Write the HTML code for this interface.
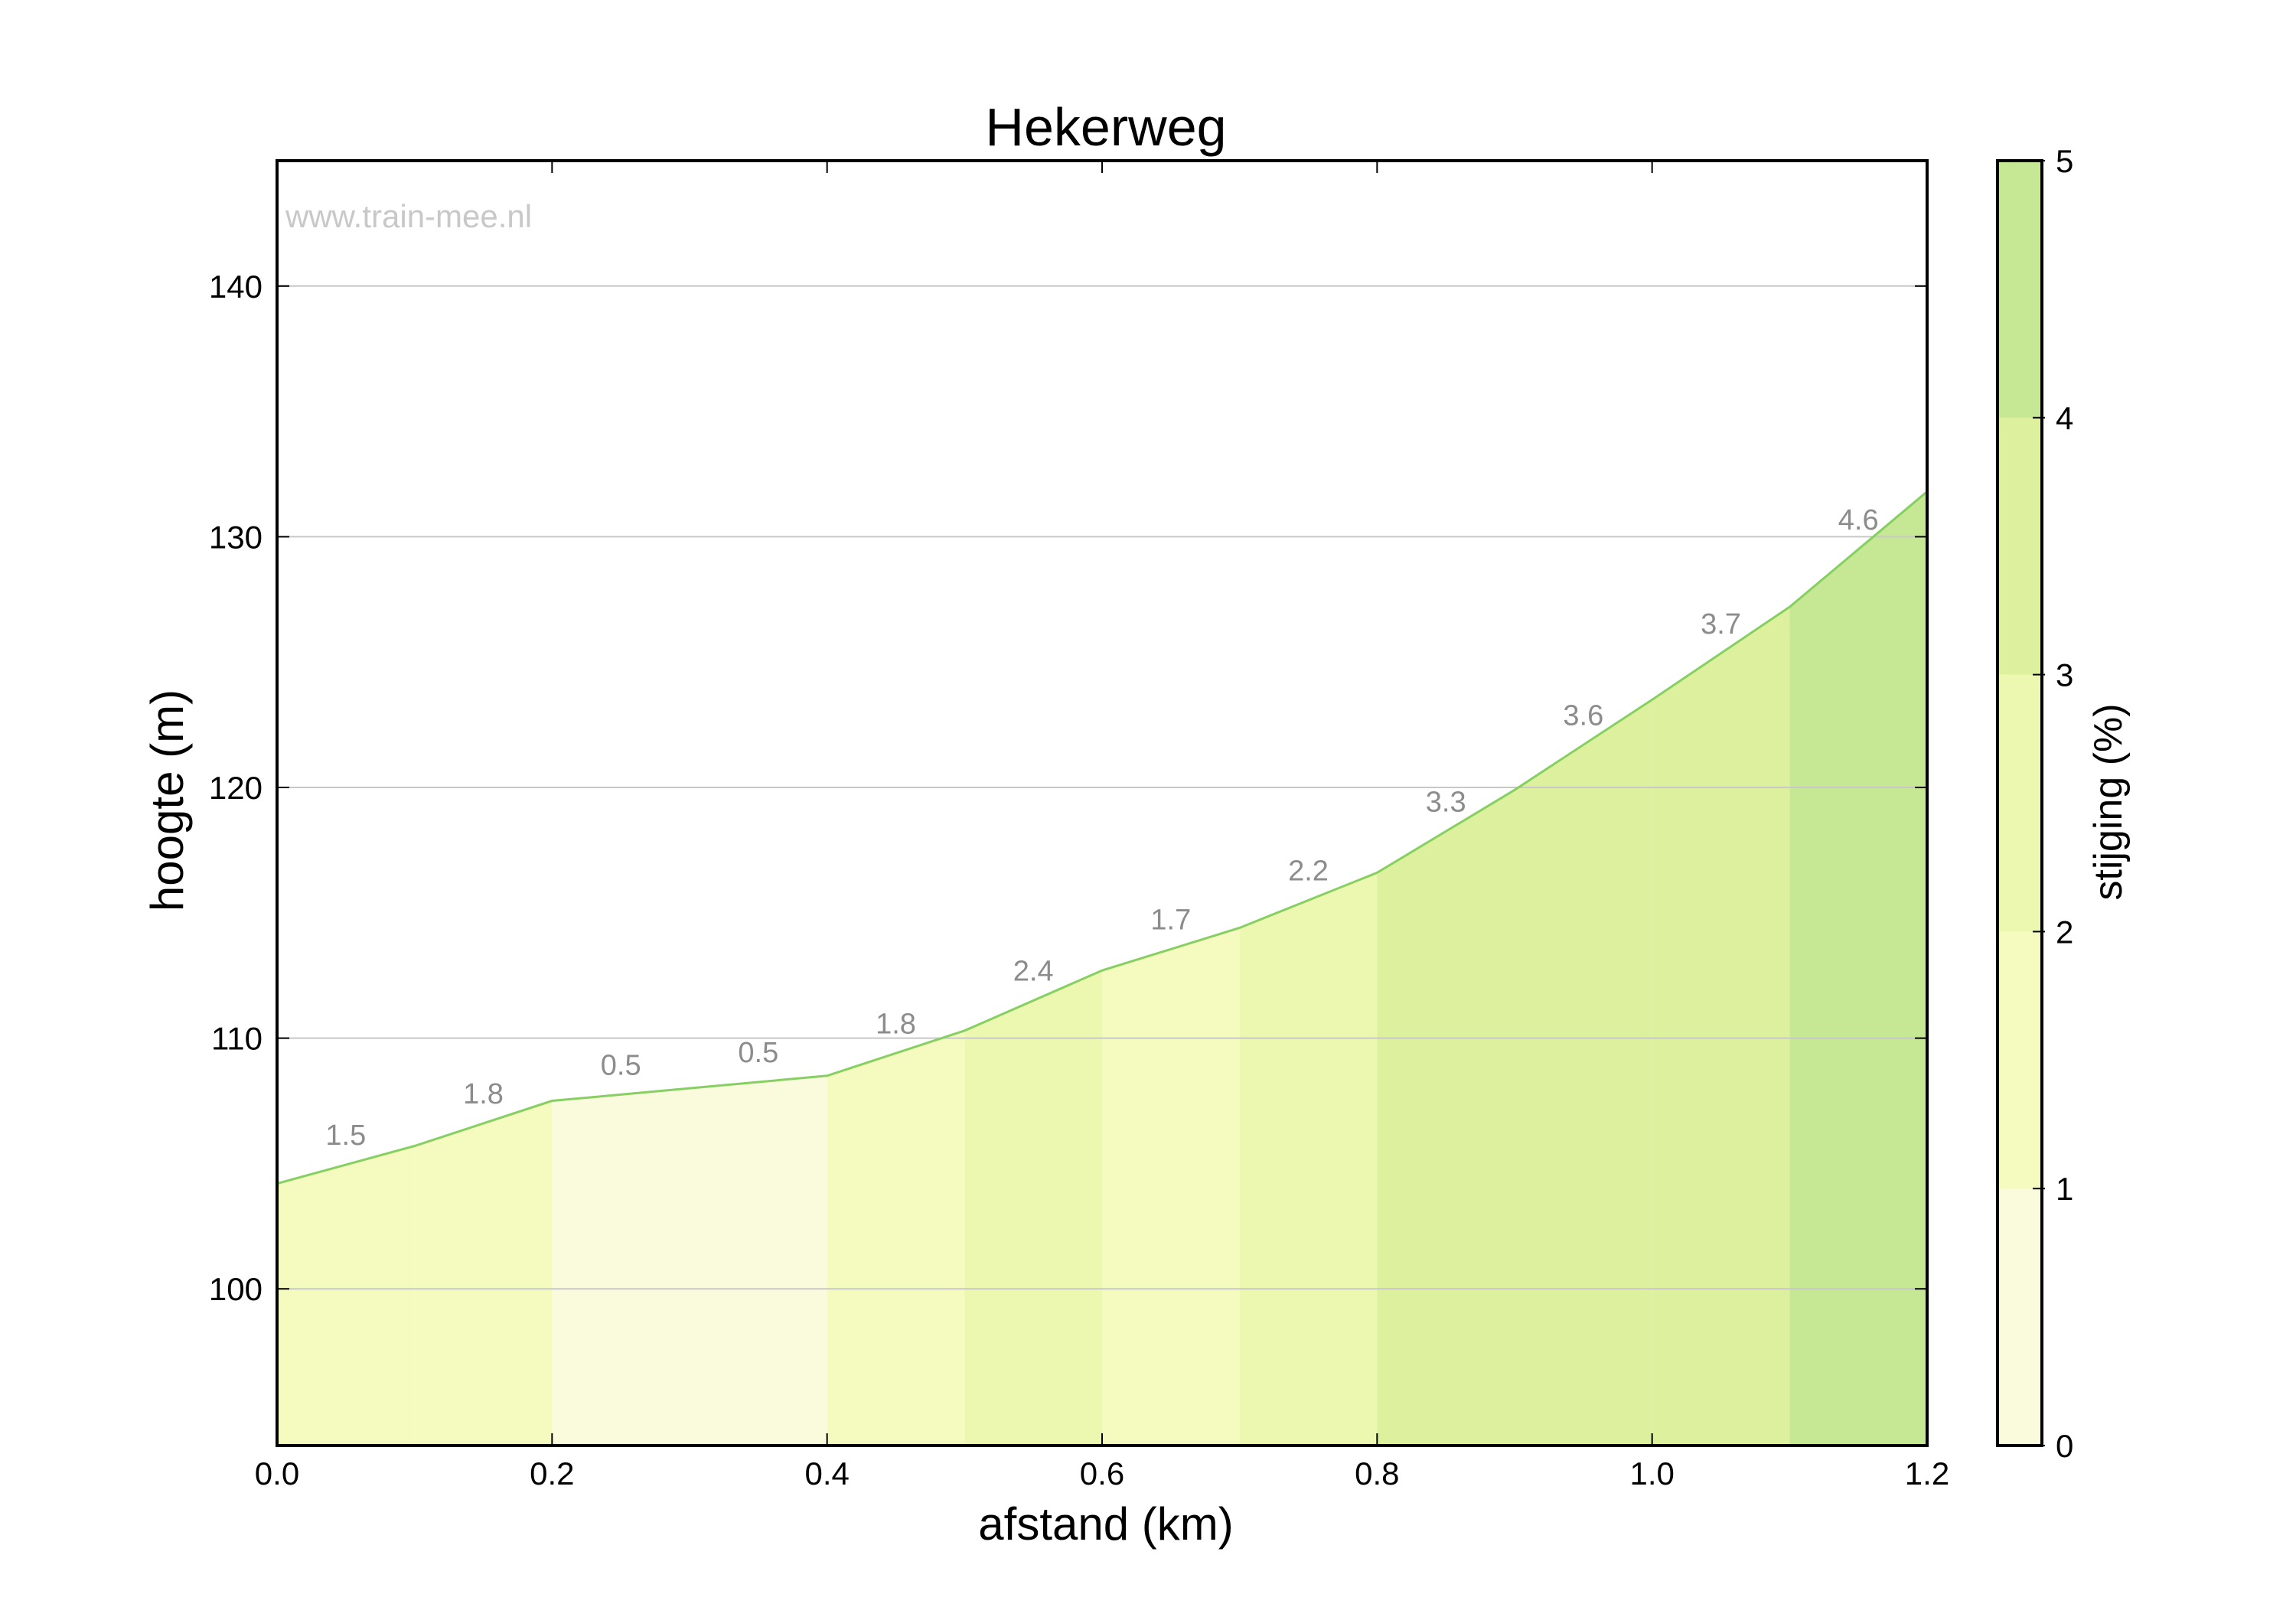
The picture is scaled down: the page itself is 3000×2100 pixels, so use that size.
<!DOCTYPE html>
<html><head><meta charset="utf-8"><style>
html,body{margin:0;padding:0;background:#fff;}
svg{display:block;font-family:"Liberation Sans",Arial,sans-serif;}
</style></head><body>
<svg id="chart" xmlns="http://www.w3.org/2000/svg" width="3000" height="2100" viewBox="0 0 3000 2100">
<rect width="3000" height="2100" fill="#fff"/>
<g id="fills"></g>
<g id="grid"></g>
<g id="line"></g>
<g id="labels"></g>
<text x="373" y="297" font-size="42" fill="#c8c8c8">www.train-mee.nl</text>
<rect x="362" y="210" width="2156" height="1679" fill="none" stroke="#000" stroke-width="4"/>
<g id="axes"></g>
<text x="1445" y="190" font-size="70" text-anchor="middle">Hekerweg</text>
<text x="1445" y="2012" font-size="60" text-anchor="middle">afstand (km)</text>
<text transform="translate(239,1046) rotate(-90)" font-size="60" text-anchor="middle">hoogte (m)</text>
<g id="cbar"></g>
<text transform="translate(2772,1048) rotate(-90)" font-size="52" text-anchor="middle">stijging (%)</text>
</svg>
<script>
const distances = [0,0.1,0.2,0.3,0.4,0.5,0.6,0.7,0.8,0.9,1.0,1.1,1.2];
const elevations = [104.2,105.7,107.5,108.0,108.5,110.3,112.7,114.4,116.6,119.9,123.5,127.2,131.8];
const grades = [1.5,1.8,0.5,0.5,1.8,2.4,1.7,2.2,3.3,3.6,3.7,4.6];
const xTicks = [0,0.2,0.4,0.6,0.8,1.0,1.2];
const yTicks = [100,110,120,130,140];
const cbTicks = [0,1,2,3,4,5];
const bandColors = ["#fafadc","#f5fbbe","#ecf7b0","#ddf09e","#c6e794"];

const NS="http://www.w3.org/2000/svg";
const L=362,R=2518,T=210,B=1889,X0=0,X1=1.2,Y0=93.75,Y1=145;
const sx=v=>L+(v-X0)/(X1-X0)*(R-L);
const sy=v=>B-(v-Y0)/(Y1-Y0)*(B-T);
function mk(tag,attrs,parent){const e=document.createElementNS(NS,tag);for(const k in attrs)e.setAttribute(k,attrs[k]);parent.appendChild(e);return e;}
const colorFor=g=>bandColors[Math.max(0,Math.min(4,Math.floor(g)))];

const fills=document.getElementById('fills');
for(let i=0;i<grades.length;i++){
  const x0=sx(distances[i]),x1=sx(distances[i+1]);
  const p=mk('polygon',{points:`${x0},${B} ${x0},${sy(elevations[i])} ${x1},${sy(elevations[i+1])} ${x1},${B}`,fill:colorFor(grades[i])},fills);
  
  
}
const grid=document.getElementById('grid');
const axes=document.getElementById('axes');
yTicks.forEach(v=>{
  const y=sy(v);
  const g=mk('line',{x1:L,x2:R,y1:y,y2:y,stroke:'#c8c8c8','stroke-width':2},grid);
  
  
  mk('line',{x1:L,x2:L+16,y1:y,y2:y,stroke:'#000','stroke-width':2},axes);
  mk('line',{x1:R-16,x2:R,y1:y,y2:y,stroke:'#000','stroke-width':2},axes);
  const t=mk('text',{x:343,y:y+15,'font-size':42,'text-anchor':'end'},axes);
  t.textContent=v;
  
  
});
xTicks.forEach(v=>{
  const x=sx(v);
  mk('line',{x1:x,x2:x,y1:B,y2:B-16,stroke:'#000','stroke-width':2},axes);
  mk('line',{x1:x,x2:x,y1:T,y2:T+16,stroke:'#000','stroke-width':2},axes);
  const t=mk('text',{x:x,y:1940,'font-size':42,'text-anchor':'middle'},axes);
  t.textContent=v.toFixed(1);
  
  
});
const line=document.getElementById('line');
const pl=mk('polyline',{points:distances.map((d,i)=>`${sx(d)},${sy(elevations[i])}`).join(' '),fill:'none',stroke:'#86cf62','stroke-width':3},line);


const labels=document.getElementById('labels');
grades.forEach((g,i)=>{
  const xm=(distances[i]+distances[i+1])/2;
  const em=(elevations[i]+elevations[i+1])/2;
  const t=mk('text',{x:sx(xm),y:sy(em)-26,'font-size':38,fill:'#8c8c8c','text-anchor':'middle'},labels);
  t.textContent=g.toFixed(1);
  
  
});
const cbar=document.getElementById('cbar');
const CL=2610,CR=2668,CT=210,CB=1889;
const cy=v=>CB-v/5*(CB-CT);
bandColors.forEach((c,i)=>{
  const r=mk('rect',{x:CL,y:cy(i+1),width:CR-CL,height:cy(i)-cy(i+1),fill:c},cbar);
  
  
});
mk('rect',{x:CL,y:CT,width:CR-CL,height:CB-CT,fill:'none',stroke:'#000','stroke-width':4},cbar);
cbTicks.forEach(v=>{
  const y=cy(v);
  mk('line',{x1:CR-12,x2:CR+4,y1:y,y2:y,stroke:'#000','stroke-width':2},cbar);
  const t=mk('text',{x:2686,y:y+15,'font-size':42},cbar);
  t.textContent=v;
  
  
});
</script>
</body></html>
